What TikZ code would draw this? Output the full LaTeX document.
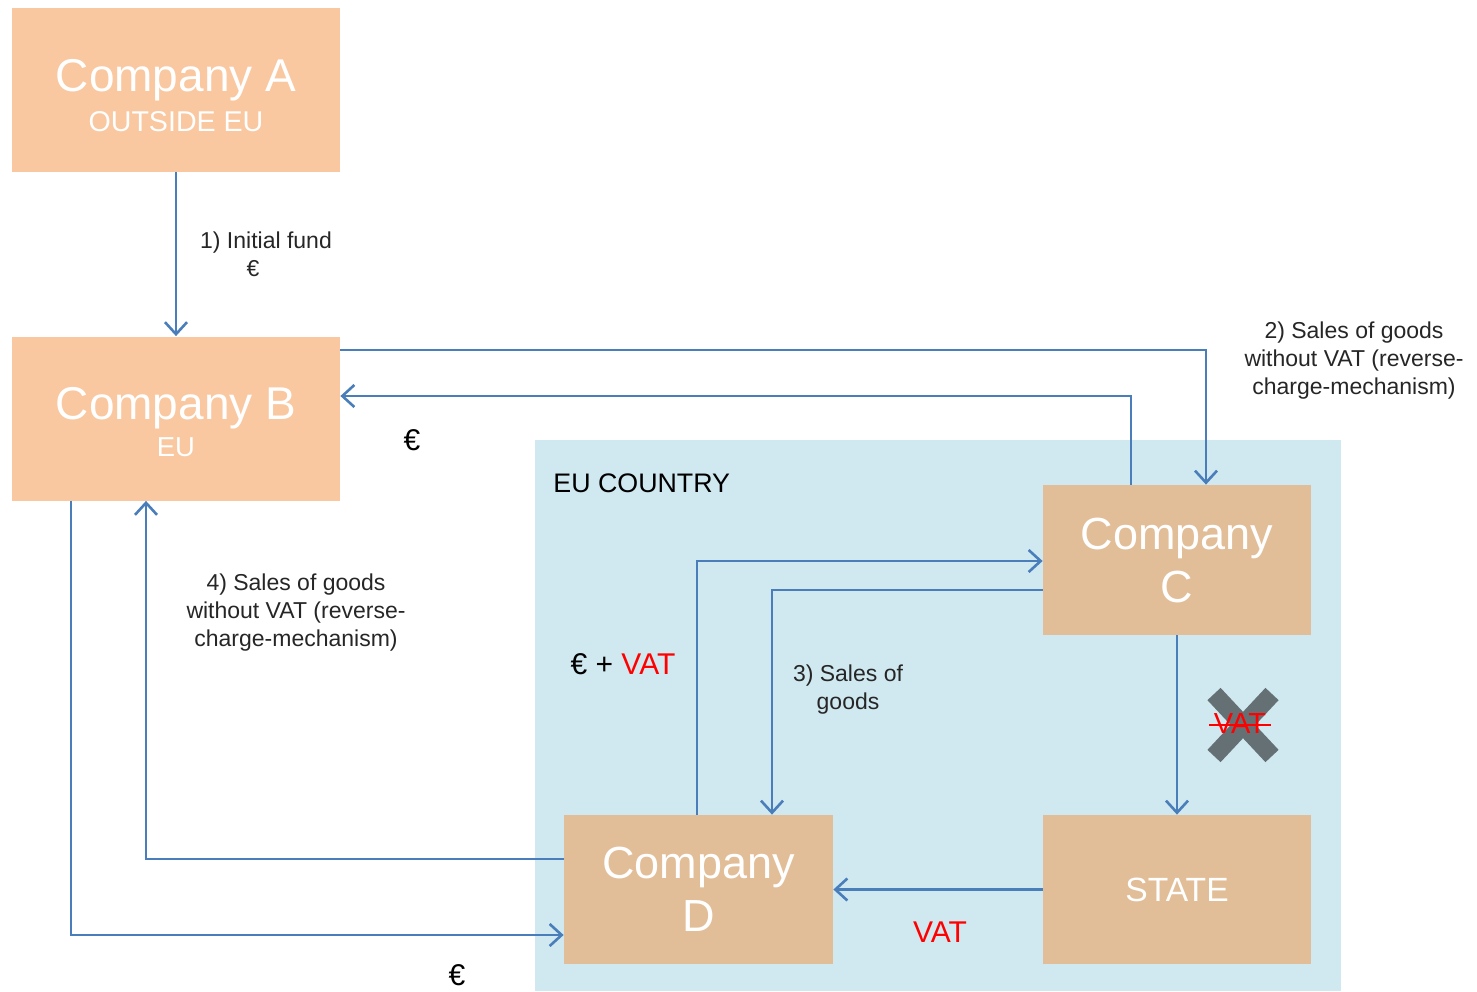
\documentclass[tikz,border=0pt]{standalone}
\usepackage{fontspec}
\setmainfont{Liberation Sans}
\usetikzlibrary{arrows.meta}
\definecolor{peach}{HTML}{F9C8A0}
\definecolor{tan}{HTML}{E2BE98}
\definecolor{eubg}{HTML}{D0E8F0}
\definecolor{arr}{HTML}{4A7EBB}
\definecolor{xgrey}{HTML}{657074}
\definecolor{vred}{HTML}{FF0000}
\begin{document}
\begin{tikzpicture}[x=0.5pt,y=-0.5pt,
  box/.style={draw=none,inner sep=0pt,text=white,align=center},
  conn/.style={draw=arr,line width=1.4pt,-{Straight Barb[length=6pt,width=11pt,line width=1.3pt]}},
  lbl/.style={font=\fontsize{11.5}{14}\selectfont,align=center,text=black!85,inner sep=0pt},
  big/.style={font=\fontsize{15}{18}\selectfont,inner sep=0pt}]
\useasboundingbox (0,0) rectangle (1477,991);
% EU country background
\fill[eubg] (535,440) rectangle (1341,991);
\node[anchor=west,font=\fontsize{13.4}{16}\selectfont,inner sep=0pt] (eulbl) at (553,483) {EU COUNTRY};
% boxes
\node[box,fill=peach,minimum width=164pt,minimum height=82pt,font=\fontsize{23}{20}\selectfont] (A) at (176,90)
  {\rule{0pt}{21.5pt}Company A\\{\fontsize{14.3}{20}\selectfont OUTSIDE EU}};
\node[box,fill=peach,minimum width=164pt,minimum height=82pt,font=\fontsize{23}{18.5}\selectfont] (B) at (176,418.5)
  {\rule{0pt}{19.5pt}Company B\\{\fontsize{13.7}{18.5}\selectfont EU}};
\node[box,fill=tan,minimum width=134pt,minimum height=75pt,font=\fontsize{22.5}{26.5}\selectfont] (C) at (1177,560)
  {Company\\C};
\node[box,fill=tan,minimum width=134.5pt,minimum height=74.5pt,font=\fontsize{22.5}{26.5}\selectfont] (D) at (698.5,889.5)
  {Company\\D};
\node[box,fill=tan,minimum width=134pt,minimum height=74.5pt,font=\fontsize{16.8}{20}\selectfont] (S) at (1177,889.5)
  {STATE};
% connectors
\draw[conn] (A.south) -- (B.north);
\draw[conn] (B.north east |- 0,350) -| (C.north -| 1206,0);
\draw[conn] (C.north -| 1131,0) |- (B.east |- 0,396);
\draw[conn] (D.north -| 697,0) |- (C.west |- 0,561);
\draw[conn] (C.west |- 0,590) -| (D.north -| 772,0);
\draw[conn] (C.south) -- (S.north);
\draw[conn] (S.west) -- (D.east);
\draw[conn] (D.west |- 0,859) -| (B.south -| 146,0);
\draw[conn] (B.south -| 71,0) |- (D.west |- 0,935);
% labels
\node[lbl] (l1) at (266,254) {1) Initial fund\\\hspace*{-13pt}€};
\node[big] (e1) at (412,440) {€};
\node[lbl] (l2) at (1354,361) {2) Sales of goods\\without VAT (reverse-\\charge-mechanism)};
\node[lbl] (l4) at (296,613) {4) Sales of goods\\without VAT (reverse-\\charge-mechanism)};
\node[big] (e2) at (623,664) {€ + \textcolor{vred}{VAT}};
\node[lbl] (l3) at (848,690) {3) Sales of\\goods};
\node[big,text=vred] (v1) at (940,932) {VAT};
\node[big] (e3) at (457,975) {€};
% crossed VAT
\draw[xgrey,line width=9pt] (1214,694) -- (1272,756) (1272,694) -- (1214,756);
\node[big,text=vred,font=\fontsize{14.5}{17}\selectfont] (v2) at (1240,724) {VAT};
\draw[vred,line width=1pt] (1209,725) -- (1271,725);
\end{tikzpicture}
\end{document}
